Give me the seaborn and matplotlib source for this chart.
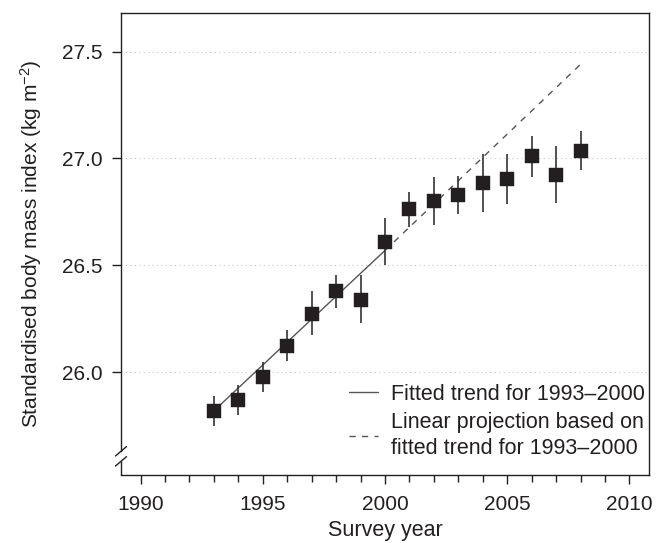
import numpy as np
import pandas as pd
import matplotlib
matplotlib.use("Agg")
import matplotlib.pyplot as plt
import matplotlib.transforms as mtransforms
from matplotlib.lines import Line2D
from matplotlib.ticker import MultipleLocator
import seaborn as sns

# Data
years = [1993, 1994, 1995, 1996, 1997, 1998, 1999, 2000,
         2001, 2002, 2003, 2004, 2005, 2006, 2007, 2008]
bmi = [25.82, 25.87, 25.98, 26.125, 26.275, 26.38, 26.34, 26.61,
       26.765, 26.80, 26.83, 26.885, 26.905, 27.01, 26.925, 27.035]
bmi_low = [25.75, 25.80, 25.91, 26.055, 26.175, 26.30, 26.23, 26.50,
           26.68, 26.69, 26.74, 26.75, 26.785, 26.915, 26.79, 26.945]
bmi_high = [25.89, 25.94, 26.05, 26.20, 26.38, 26.455, 26.455, 26.72,
            26.845, 26.915, 26.92, 27.02, 27.02, 27.105, 27.06, 27.13]

fit_years = [1993, 2000]
fit_values = [25.82, 26.57]
proj_years = [2000, 2008]
proj_values = [26.57, 27.44]

df = pd.DataFrame({'year': years, 'bmi': bmi, 'low': bmi_low, 'high': bmi_high})
fit_df = pd.DataFrame({'year': fit_years, 'bmi': fit_values})
proj_df = pd.DataFrame({'year': proj_years, 'bmi': proj_values})

# Style
sns.set_style("ticks")
ink = '#231f20'
plt.rcParams['font.family'] = ['Liberation Sans', 'DejaVu Sans']
plt.rcParams['mathtext.fontset'] = 'custom'
plt.rcParams['mathtext.rm'] = 'Liberation Sans'
plt.rcParams['mathtext.it'] = 'Liberation Sans:italic'
plt.rcParams['text.color'] = ink
plt.rcParams['axes.labelcolor'] = ink
plt.rcParams['xtick.color'] = ink
plt.rcParams['ytick.color'] = ink

fig = plt.figure(figsize=(6.67, 5.43), dpi=100)
ax = fig.add_axes([0.1814, 0.1252, 0.7916, 0.8508])

# dotted horizontal grid at major y ticks
for yv in [26.0, 26.5, 27.0, 27.5]:
    ax.axhline(yv, color='#c8c8c8', lw=0.8, ls=(0, (1, 3)), zorder=0)

# trend lines
sns.lineplot(data=fit_df, x='year', y='bmi', ax=ax, color='#555555', lw=1.0,
             zorder=2, legend=False)
sns.lineplot(data=proj_df, x='year', y='bmi', ax=ax, color='#555555', lw=1.0,
             zorder=2, legend=False)
ax.lines[-1].set_linestyle((0, (4.5, 4.5)))

# error bars
ax.vlines(df['year'], df['low'], df['high'], color='#333333', lw=1.2, zorder=3)

# square markers
sns.scatterplot(data=df, x='year', y='bmi', ax=ax, marker='s', s=9.6 ** 2,
                color=ink, edgecolor=ink, linewidth=0.3, zorder=4, legend=False)

# axes limits and ticks
ax.set_xlim(1989.2, 2010.8)
ax.set_ylim(25.52, 27.68)
ax.xaxis.set_major_locator(MultipleLocator(5))
ax.xaxis.set_minor_locator(MultipleLocator(1))
ax.set_yticks([26.0, 26.5, 27.0, 27.5])
ax.set_yticklabels(['26.0', '26.5', '27.0', '27.5'])
ax.tick_params(axis='both', which='major', length=6.5, width=1.0, labelsize=15,
               direction='out')
ax.tick_params(axis='x', which='major', pad=8)
ax.tick_params(axis='y', which='major', pad=7)
ax.tick_params(axis='x', which='minor', length=5, width=1.0, direction='out')

for side in ['top', 'right', 'bottom', 'left']:
    ax.spines[side].set_color(ink)
    ax.spines[side].set_linewidth(1.0)

# y-axis break
ax.spines['left'].set_bounds(25.631, 27.68)
trans = mtransforms.blended_transform_factory(ax.transAxes, ax.transData)
ax.plot([0, 0], [25.52, 25.584], transform=trans, color=ink, lw=1.0,
        clip_on=False, solid_capstyle='butt')
for yc in [25.631, 25.584]:
    ax.plot([-0.0105, 0.0105], [yc - 0.022, yc + 0.022], transform=trans,
            color=ink, lw=1.0, clip_on=False)

ax.set_xlabel('Survey year', fontsize=15.5, labelpad=4)
ax.set_ylabel('Standardised body mass index (kg m$^{-2}$)', fontsize=15, labelpad=13)

# legend
handles = [Line2D([], [], color='#555555', lw=1.0),
           Line2D([], [], color='#555555', lw=1.0, ls=(0, (4.5, 4.5)))]
labels = ['Fitted trend for 1993\u20132000',
          'Linear projection based on\nfitted trend for 1993\u20132000']
leg = ax.legend(handles, labels, loc='lower right', frameon=False, fontsize=15.5,
                handlelength=1.35, handletextpad=0.6, labelspacing=0.35,
                borderaxespad=0.0, bbox_to_anchor=(1.008, 0.016))
for t in leg.get_texts():
    t.set_linespacing(1.3)

fig.savefig('out.png', dpi=100)
